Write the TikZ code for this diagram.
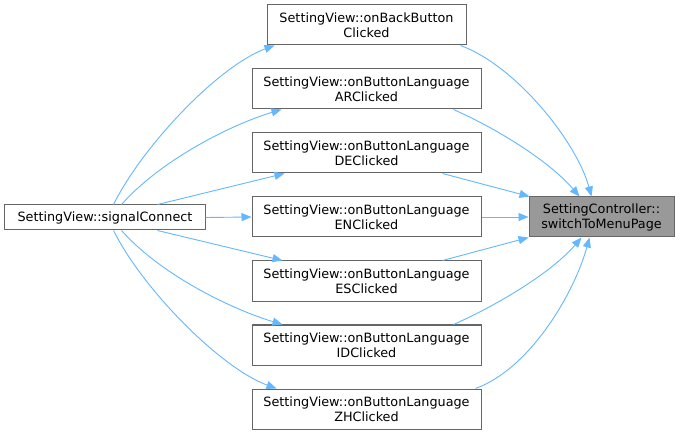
\documentclass[tikz,border=0pt]{standalone}
\usepackage{fontspec}
\setmainfont{DejaVu Sans}
\usetikzlibrary{arrows.meta}
\definecolor{edgeblue}{HTML}{63B8FF}
\definecolor{boxgray}{HTML}{666666}
\definecolor{ctrlfill}{HTML}{999999}
\begin{document}
\begin{tikzpicture}[x=1bp,y=-1bp,
  fn/.style={draw=boxgray, line width=1bp, fill=white, inner sep=0pt, align=center,
    font=\fontsize{12.8bp}{15bp}\selectfont, text=black},
  edge/.style={draw=edgeblue, line width=0.9bp, -{Triangle[length=10bp,width=8bp]}, fill=none}]
\useasboundingbox (0,0) rectangle (680,435);
\fill[white] (0,0) rectangle (680,435);
\node[fn, minimum width=200bp, minimum height=25bp] (sc) at (105,217.5) {SettingView::signalConnect};
\node[fn, minimum width=199bp, minimum height=40bp] (bb) at (366.5,25) {SettingView::onBackButton\\Clicked};
\node[fn, minimum width=229bp, minimum height=40bp] (ar) at (366.5,89) {SettingView::onButtonLanguage\\ARClicked};
\node[fn, minimum width=229bp, minimum height=40bp] (de) at (366.5,153) {SettingView::onButtonLanguage\\DEClicked};
\node[fn, minimum width=229bp, minimum height=40bp] (en) at (366.5,217) {SettingView::onButtonLanguage\\ENClicked};
\node[fn, minimum width=229bp, minimum height=40bp] (es) at (366.5,281) {SettingView::onButtonLanguage\\ESClicked};
\node[fn, minimum width=229bp, minimum height=40bp] (id) at (366.5,345) {SettingView::onButtonLanguage\\IDClicked};
\node[fn, minimum width=229bp, minimum height=40bp] (zh) at (366.5,409) {SettingView::onButtonLanguage\\ZHClicked};
\node[fn, fill=ctrlfill, minimum width=145bp, minimum height=40bp] (ctrl) at (601.5,217) {SettingController::\\switchToMenuPage};
% left edges
\draw[edge] ([xshift=109bp]sc.north west) .. controls +(30,-60) and +(-55,20) .. ([xshift=8bp]bb.south west);
\draw[edge] ([xshift=117bp]sc.north west) .. controls +(40,-45) and +(-50,15) .. ([xshift=30bp]ar.south west);
\draw[edge] ([xshift=153bp]sc.north west) -- ([xshift=33bp]de.south west);
\draw[edge] (sc.east) -- (en.west);
\draw[edge] ([xshift=153bp]sc.south west) -- ([xshift=31bp]es.north west);
\draw[edge] ([xshift=117bp]sc.south west) .. controls +(40,45) and +(-50,-15) .. ([xshift=31bp]id.north west);
\draw[edge] ([xshift=109bp]sc.south west) .. controls +(30,60) and +(-55,-20) .. ([xshift=25bp]zh.north west);
% right edges
\draw[edge] ([xshift=-6bp]bb.south east) .. controls +(55,20) and +(-15,-55) .. ([xshift=63bp]ctrl.north west);
\draw[edge] ([xshift=-28bp]ar.south east) .. controls +(45,20) and +(-30,-35) .. ([xshift=51bp]ctrl.north west);
\draw[edge] ([xshift=-39bp]de.south east) -- ([xshift=1bp]ctrl.north west);
\draw[edge] (en.east) -- (ctrl.west);
\draw[edge] ([xshift=-39bp]es.north east) -- (ctrl.south west);
\draw[edge] ([xshift=-28bp]id.north east) .. controls +(45,-20) and +(-30,35) .. ([xshift=53bp]ctrl.south west);
\draw[edge] ([xshift=-6bp]zh.north east) .. controls +(55,-20) and +(-15,55) .. ([xshift=61bp]ctrl.south west);
\end{tikzpicture}
\end{document}
